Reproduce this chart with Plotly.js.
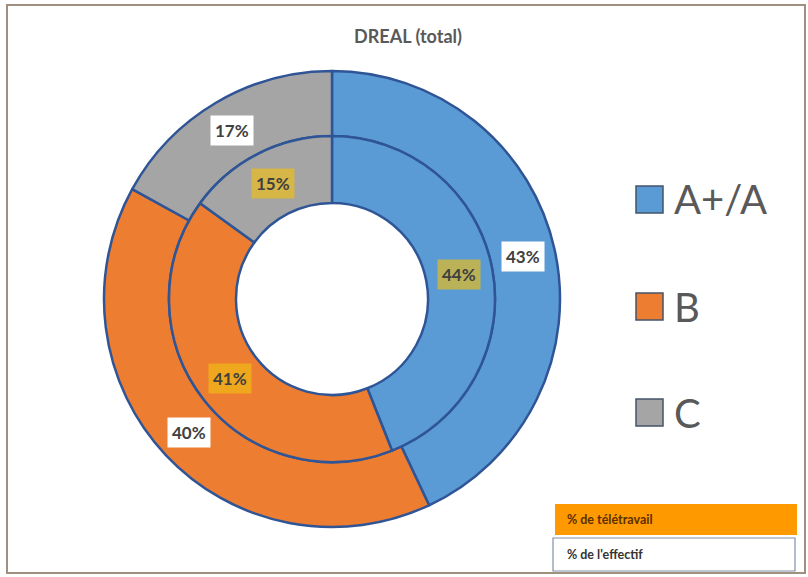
<!DOCTYPE html>
<html><head><meta charset="utf-8">
<script src="https://cdn.plot.ly/plotly-3.0.1.min.js"></script>
<style>html,body{margin:0;padding:0;background:#fff}#chart{width:808px;height:577px}</style>
</head><body><div id="chart"></div>
<script>
const categories = ['A+/A', 'B', 'C'];
const effectif = [43, 40, 17];      // outer ring: % de l'effectif
const teletravail = [44, 41, 15];   // inner ring: % de télétravail
const colors = ['#5B9BD5', '#ED7D31', '#A5A5A5'];
const ringLabels = ['% de télétravail', "% de l'effectif"];

const W = 808, H = 577;
const cx = 332, cy = 299, rOut = 228, rMid = 163, rIn = 96;
const px = x => x / W, py = y => 1 - y / H;
const lineColor = '#2F5597';

const traces = [
  {type:'pie', labels:categories, values:effectif, sort:false, direction:'clockwise', rotation:0,
   hole: rMid / rOut, textinfo:'none', hoverinfo:'skip', showlegend:false,
   marker:{colors:colors, line:{color:lineColor, width:2.5}},
   domain:{x:[px(cx-rOut), px(cx+rOut)], y:[py(cy+rOut), py(cy-rOut)]}},
  {type:'pie', labels:categories, values:teletravail, sort:false, direction:'clockwise', rotation:0,
   hole: rIn / rMid, textinfo:'none', hoverinfo:'skip', showlegend:false,
   marker:{colors:colors, line:{color:lineColor, width:2.5}},
   domain:{x:[px(cx-rMid), px(cx+rMid)], y:[py(cy+rMid), py(cy-rMid)]}}
];

function sliceLabels(vals, r, bg) {
  const tot = vals.reduce((a,b)=>a+b,0);
  let cum = 0; const out = [];
  vals.forEach(v => {
    const mid = (cum + v/2) / tot * 2 * Math.PI; cum += v;
    out.push({xref:'paper', yref:'paper', x:px(cx + r*Math.sin(mid)), y:py(cy - r*Math.cos(mid)),
      xanchor:'center', yanchor:'middle',
      text: Math.round(v/tot*100) + '%', showarrow:false, bgcolor:bg, borderpad:4,
      font:{family:'Lato, sans-serif', size:17, color:'#404040', weight:'bold'}});
  });
  return out;
}

const annotations = [
  ...sliceLabels(effectif, (rOut+rMid)/2, '#FFFFFF'),
  ...sliceLabels(teletravail, (rMid+rIn)/2, 'rgba(240,190,20,0.65)')
];
const shapes = [
  {type:'rect', xref:'paper', yref:'paper', x0:px(7), x1:px(805), y0:py(573), y1:py(5),
   line:{color:'#A09080', width:2}, fillcolor:'rgba(0,0,0,0)', layer:'below'},
  {type:'rect', xref:'paper', yref:'paper', x0:px(555), x1:px(797), y0:py(535), y1:py(504),
   line:{width:0}, fillcolor:'#FF9900'},
  {type:'rect', xref:'paper', yref:'paper', x0:px(553), x1:px(795), y0:py(571), y1:py(538),
   line:{color:'#8090A8', width:1.2}, fillcolor:'#FFFFFF'}
];
const legY = [199.5, 306.5, 412.5];
categories.forEach((c, i) => {
  shapes.push({type:'rect', xref:'paper', yref:'paper', x0:px(636), x1:px(663), y0:py(legY[i]+13.5), y1:py(legY[i]-13.5),
    line:{color:'#44546A', width:1.5}, fillcolor:colors[i]});
  annotations.push({xref:'paper', yref:'paper', x:px(672), y:py(legY[i]), xanchor:'left', yanchor:'middle',
    text:c, showarrow:false, font:{family:'Lato, sans-serif', size:40, color:'#595959'}});
});
annotations.push({xref:'paper', yref:'paper', x:px(565), y:py(519.5), xanchor:'left', yanchor:'middle',
  text:ringLabels[0], showarrow:false, font:{family:'Lato, sans-serif', size:12.5, color:'#5A3000', weight:'bold'}});
annotations.push({xref:'paper', yref:'paper', x:px(565), y:py(554.5), xanchor:'left', yanchor:'middle',
  text:ringLabels[1], showarrow:false, font:{family:'Lato, sans-serif', size:12.5, color:'#333333', weight:'bold'}});

const layout = {
  width:W, height:H, margin:{l:0, r:0, t:0, b:0},
  paper_bgcolor:'#FFFFFF', plot_bgcolor:'#FFFFFF', showlegend:false,
  title:{text:'DREAL (total)', x:0.505, xanchor:'center', y:1-37/H, yanchor:'middle', yref:'paper',
    font:{family:'Lato, sans-serif', size:18, color:'#595959', weight:'bold'}},
  annotations, shapes
};
Plotly.newPlot('chart', traces, layout, {displayModeBar:false, staticPlot:true});
</script></body></html>
